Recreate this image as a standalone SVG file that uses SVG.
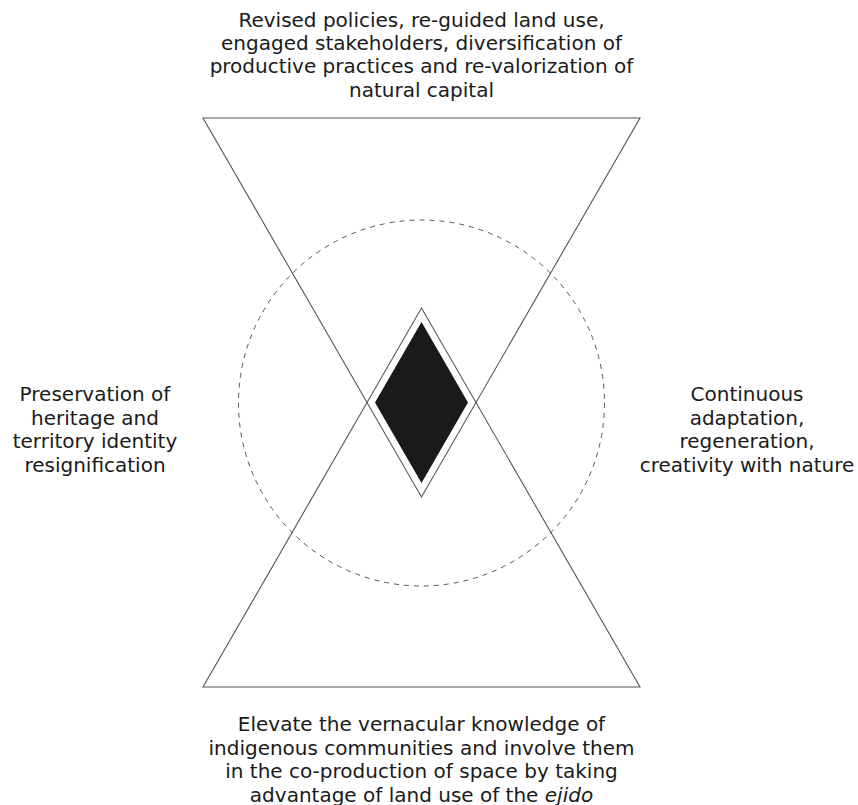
<svg xmlns="http://www.w3.org/2000/svg" width="858" height="805" viewBox="0 0 858 805">
<style>
.lbl{font-family:"DejaVu Sans","Liberation Sans",sans-serif;font-size:20px;fill:#1a1a1a;text-anchor:middle}
.tri{fill:none;stroke:#555;stroke-width:1.1}
</style>
<rect width="858" height="805" fill="#fff"/>
<g id="circle">
<circle cx="421.5" cy="403" r="183" fill="none" stroke="#555" stroke-width="1" stroke-dasharray="5,5"/>
</g>
<g id="connectors">
<polygon id="top-triangle" class="tri" points="203,118 640,118 421.5,497"/>
<polygon id="bottom-triangle" class="tri" points="203,687 640,687 421.5,308"/>
</g>
<g id="diamond">
<polygon points="421.5,322 468,402.5 421.5,483 375,402.5" fill="#1a1a1a"/>
</g>
<g id="label-top">
<text class="lbl" x="421.5" y="27">Revised policies, re-guided land use,</text>
<text class="lbl" x="421.5" y="50">engaged stakeholders, diversification of</text>
<text class="lbl" x="421.5" y="73">productive practices and re-valorization of</text>
<text class="lbl" x="421.5" y="96.5">natural capital</text>
</g>
<g id="label-left">
<text class="lbl" x="95" y="401">Preservation of</text>
<text class="lbl" x="95" y="424.5">heritage and</text>
<text class="lbl" x="95" y="448">territory identity</text>
<text class="lbl" x="95" y="471.5">resignification</text>
</g>
<g id="label-right">
<text class="lbl" x="747" y="401">Continuous</text>
<text class="lbl" x="747" y="424.5">adaptation,</text>
<text class="lbl" x="747" y="448">regeneration,</text>
<text class="lbl" x="747" y="471.5">creativity with nature</text>
</g>
<g id="label-bottom">
<text class="lbl" x="421.5" y="731">Elevate the vernacular knowledge of</text>
<text class="lbl" x="421.5" y="754.5">indigenous communities and involve them</text>
<text class="lbl" x="421.5" y="778">in the co-production of space by taking</text>
<text class="lbl" x="421.5" y="801.5">advantage of land use of the <tspan font-style="italic">ejido</tspan></text>
</g>
</svg>
